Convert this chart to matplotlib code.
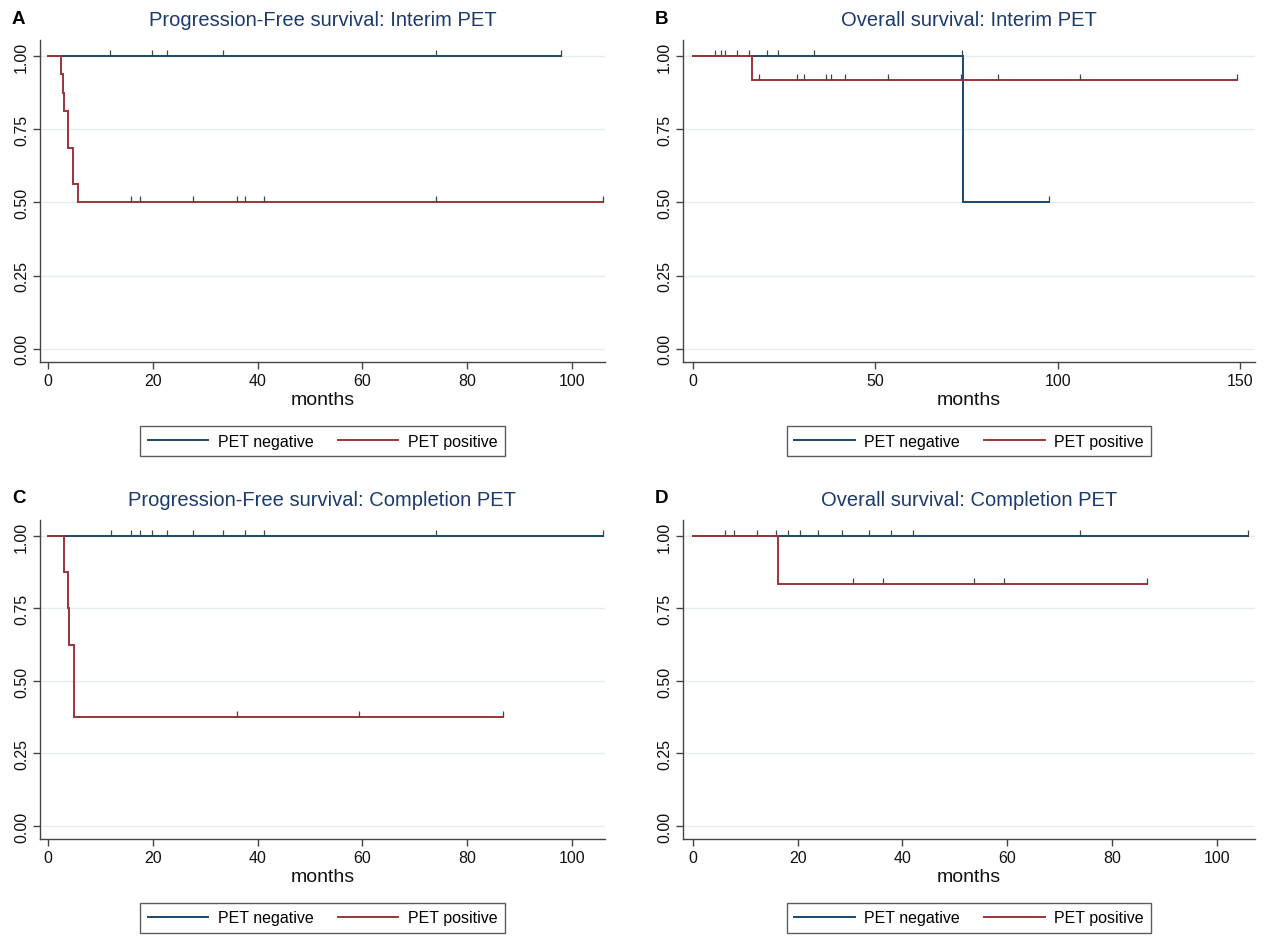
import matplotlib as mpl
mpl.use('Agg')
import matplotlib.pyplot as plt
import numpy as np

plt.rcParams['font.family'] = ['Liberation Sans', 'DejaVu Sans']

# Kaplan-Meier curves (months, survival)
# A: Progression-free survival, interim PET
a_neg_t = [0]
a_neg_s = [1.0]
a_neg_end = 97.9
a_neg_cens = [11.9, 19.8, 22.7, 33.4, 74.0, 97.9]
a_pos_t = [0, 2.6, 2.9, 3.1, 3.9, 4.8, 5.7]
a_pos_s = [1.0, 0.9375, 0.875, 0.8125, 0.6875, 0.5625, 0.5]
a_pos_end = 106.0
a_pos_cens = [15.8, 17.6, 27.7, 36.0, 37.7, 41.3, 74.1, 106.0]

# B: Overall survival, interim PET
b_neg_t = [0, 74.1]
b_neg_s = [1.0, 0.5]
b_neg_end = 97.6
b_neg_cens = [6.0, 7.6, 8.7, 12.0, 15.5, 20.2, 23.4, 33.2, 73.7, 97.6]
b_pos_t = [0, 16.1]
b_pos_s = [1.0, 0.9167]
b_pos_end = 149.0
b_pos_cens = [18.0, 28.6, 30.4, 36.4, 37.8, 41.8, 53.5, 73.5, 83.7, 106.0, 149.0]

# C: Progression-free survival, completion PET
c_neg_t = [0]
c_neg_s = [1.0]
c_neg_end = 106.0
c_neg_cens = [12.0, 15.8, 17.6, 19.9, 22.8, 27.6, 33.5, 37.7, 41.3, 74.0, 106.0]
c_pos_t = [0, 3.0, 3.8, 4.0, 4.9, 5.0]
c_pos_s = [1.0, 0.875, 0.75, 0.625, 0.5, 0.375]
c_pos_end = 86.8
c_pos_cens = [36.0, 59.3, 86.8]

# D: Overall survival, completion PET
d_neg_t = [0]
d_neg_s = [1.0]
d_neg_end = 106.0
d_neg_cens = [6.1, 7.9, 12.2, 15.8, 18.1, 20.5, 23.8, 28.5, 33.6, 37.9, 42.1, 73.8, 106.0]
d_pos_t = [0, 16.3]
d_pos_s = [1.0, 0.8333]
d_pos_end = 86.6
d_pos_cens = [30.5, 36.3, 53.6, 59.3, 86.6]

titles = ['Progression-Free survival: Interim PET', 'Overall survival: Interim PET',
          'Progression-Free survival: Completion PET', 'Overall survival: Completion PET']
letters = ['A', 'B', 'C', 'D']
y_ticks = [0, 0.25, 0.5, 0.75, 1.0]
y_labels = ['0.00', '0.25', '0.50', '0.75', '1.00']
x_ticks_short = [0, 20, 40, 60, 80, 100]
x_ticks_long = [0, 50, 100, 150]

NAVY = '#1a476f'
MAROON = '#9c3339'
TITLE_C = '#1c3a6b'
AX_C = '#444444'

W, H = 1269, 937
fig = plt.figure(figsize=(W / 100, H / 100), dpi=100)


def px_axes(left, top, right, bottom):
    return fig.add_axes([left / W, 1 - bottom / H, (right - left) / W, (bottom - top) / H])


def km(ax, t, s, end, cens, color):
    x = list(t) + [end]
    y = list(s) + [s[-1]]
    line, = ax.step(x, y, where='post', color=color, lw=1.4, solid_joinstyle='miter')
    idx = np.searchsorted(t, cens, side='right') - 1
    ys = np.array(s)[idx]
    ax.vlines(cens, ys, ys + 0.022, color=AX_C, lw=0.9)
    return line


panels = [
    ((40, 41, 605, 363), (a_neg_t, a_neg_s, a_neg_end, a_neg_cens), (a_pos_t, a_pos_s, a_pos_end, a_pos_cens), (-1.5, 106.3), x_ticks_short),
    ((683, 41, 1255, 363), (b_neg_t, b_neg_s, b_neg_end, b_neg_cens), (b_pos_t, b_pos_s, b_pos_end, b_pos_cens), (-2.7, 154.0), x_ticks_long),
    ((40, 521, 605, 840), (c_neg_t, c_neg_s, c_neg_end, c_neg_cens), (c_pos_t, c_pos_s, c_pos_end, c_pos_cens), (-1.5, 106.3), x_ticks_short),
    ((683, 521, 1255, 840), (d_neg_t, d_neg_s, d_neg_end, d_neg_cens), (d_pos_t, d_pos_s, d_pos_end, d_pos_cens), (-1.9, 107.3), x_ticks_short),
]

for i, (box, neg, pos, xlim, xt) in enumerate(panels):
    ax = px_axes(*box)
    for yv in y_ticks:
        ax.axhline(yv, color='#e4eded', lw=1.0, zorder=0)
    l_neg = km(ax, *neg, NAVY)
    l_pos = km(ax, *pos, MAROON)
    ax.set_xlim(*xlim)
    ax.set_ylim(-0.045, 1.055)
    ax.set_xticks(xt)
    ax.set_yticks(y_ticks)
    ax.set_yticklabels(y_labels, rotation=90, va='center')
    for side in ['top', 'right']:
        ax.spines[side].set_visible(False)
    for side in ['left', 'bottom']:
        ax.spines[side].set_color(AX_C)
        ax.spines[side].set_linewidth(1.0)
    ax.tick_params(colors=AX_C, labelcolor='#111111', labelsize=11.5, length=5, width=1.0, pad=3)
    ax.set_xlabel('months', fontsize=14, labelpad=2, color='#111111')
    ax.set_title(titles[i], fontsize=14.5, color=TITLE_C, pad=11)
    fig.text((box[0] - 28) / W, 1 - (box[1] - 22) / H, letters[i], fontsize=13.5,
             fontweight='bold', ha='left', va='center')
    # legend box sits below the axis, centred on the panel
    leg_y = -79 / (box[3] - box[1])
    leg = ax.legend([l_neg, l_pos], ['PET negative', 'PET positive'], loc='center',
                    bbox_to_anchor=(0.5, leg_y), ncol=2, fontsize=11.5, frameon=True,
                    fancybox=False, handlelength=3.8, handletextpad=0.6, columnspacing=1.5,
                    borderpad=0.45)
    leg.get_frame().set_edgecolor('#333333')
    leg.get_frame().set_linewidth(1.0)

fig.savefig('out.png', dpi=100)
